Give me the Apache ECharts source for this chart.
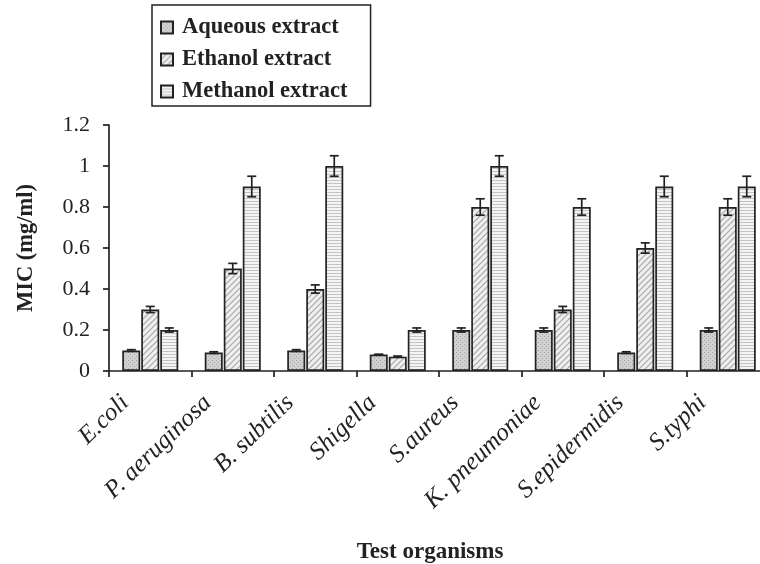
<!DOCTYPE html>
<html><head><meta charset="utf-8">
<script src="https://cdn.jsdelivr.net/npm/echarts@6/dist/echarts.min.js"></script>
<style>html,body{margin:0;padding:0;background:#fff}#c{width:760px;height:564px}</style>
</head><body><div id="c"></div>
<script>
const categories = ['E.coli','P. aeruginosa','B. subtilis','Shigella','S.aureus','K. pneumoniae','S.epidermidis','S.typhi'];
const seriesNames = ['Aqueous extract','Ethanol extract','Methanol extract'];
const aqueous  = [0.1, 0.09, 0.1, 0.08, 0.2, 0.2, 0.09, 0.2];
const ethanol  = [0.3, 0.5, 0.4, 0.07, 0.8, 0.3, 0.6, 0.8];
const methanol = [0.2, 0.9, 1.0, 0.2, 1.0, 0.8, 0.9, 0.9];
const aqueousErr  = [0.004, 0.004, 0.004, 0.002, 0.01, 0.01, 0.004, 0.01];
const ethanolErr  = [0.015, 0.025, 0.02, 0.003, 0.04, 0.015, 0.025, 0.04];
const methanolErr = [0.01, 0.05, 0.05, 0.01, 0.05, 0.04, 0.05, 0.05];
const yTicks = [0, 0.2, 0.4, 0.6, 0.8, 1, 1.2];

function makeCanvas(w, h, draw) {
  const c = document.createElement('canvas'); c.width = w; c.height = h;
  draw(c.getContext('2d')); return c;
}
const patAq = makeCanvas(4, 4, g => {
  g.fillStyle = '#d0d0d0'; g.fillRect(0,0,4,4);
  g.fillStyle = '#a9a9a9'; g.fillRect(0,0,1,1); g.fillRect(2,2,1,1);
});
const patEth = makeCanvas(6, 6, g => {
  g.fillStyle = '#efefef'; g.fillRect(0,0,6,6);
  g.strokeStyle = '#a8a8a8'; g.lineWidth = 1.2;
  g.beginPath();
  g.moveTo(-1,7); g.lineTo(7,-1);
  g.moveTo(-4,4); g.lineTo(4,-4);
  g.moveTo(2,10); g.lineTo(10,2);
  g.stroke();
});
const patMet = makeCanvas(2, 3, g => {
  g.fillStyle = '#f4f4f4'; g.fillRect(0,0,2,3);
  g.fillStyle = '#c4c4c4'; g.fillRect(0,0,2,1);
});
const patterns = [patAq, patEth, patMet];
const values = [aqueous, ethanol, methanol];
const errs = [aqueousErr, ethanolErr, methanolErr];

const BAR_W = 18, BAR_STEP = 19;
const barSeries = values.map((v, i) => ({
  name: seriesNames[i], type: 'bar', data: v, barWidth: BAR_W, barGap: '5.6%',
  itemStyle: { color: { image: patterns[i], repeat: 'repeat' }, borderColor: '#222', borderWidth: 1.7 },
  emphasis: { disabled: true }, z: 2
}));
const errSeries = values.map((v, i) => ({
  type: 'custom', name: seriesNames[i] + ' err', z: 5, silent: true,
  data: v.map((val, k) => [k, val, errs[i][k]]),
  renderItem: (params, api) => {
    const k = api.value(0), val = api.value(1), e = api.value(2);
    const off = (i - 1) * BAR_STEP;
    const hi = api.coord([k, val + e]), lo = api.coord([k, val - e]);
    const x = hi[0] + off, cw = 4.5;
    const st = { stroke: '#222', lineWidth: 1.7 };
    return { type: 'group', children: [
      { type: 'line', shape: { x1: x, y1: hi[1], x2: x, y2: lo[1] }, style: st },
      { type: 'line', shape: { x1: x - cw, y1: hi[1], x2: x + cw, y2: hi[1] }, style: st },
      { type: 'line', shape: { x1: x - cw, y1: lo[1], x2: x + cw, y2: lo[1] }, style: st }
    ]};
  }
}));

const serif = 'Liberation Serif';
const chart = echarts.init(document.getElementById('c'));
chart.setOption({
  animation: false,
  backgroundColor: '#fff',
  grid: { left: 109, top: 125, width: 660, height: 246, containLabel: false, outerBoundsMode: 'none' },
  legend: {
    data: seriesNames, orient: 'vertical', left: 152, top: 5,
    icon: 'rect', itemWidth: 12, itemHeight: 12, itemGap: 9,
    borderColor: '#222', borderWidth: 1.5, padding: [11, 23, 3, 8],
    textStyle: { fontFamily: serif, fontWeight: 'bold', fontSize: 22.5, color: '#222', padding: [0, 0, 0, 4] }
  },
  xAxis: {
    type: 'category', data: categories,
    axisLine: { lineStyle: { color: '#222', width: 1.7 } },
    axisTick: { show: true, length: 6, lineStyle: { color: '#222', width: 1.7 } },
    axisLabel: { rotate: 44, interval: 0, margin: 4, padding: [0, 35, 0, 0],
      fontFamily: serif, fontStyle: 'italic', fontSize: 25, color: '#222' },
    name: 'Test organisms', nameLocation: 'middle', nameGap: 170,
    nameTextStyle: { fontFamily: serif, fontWeight: 'bold', fontSize: 23, color: '#222', padding: [0, 18, 0, 0] }
  },
  yAxis: {
    type: 'value', min: 0, max: 1.2, interval: 0.2,
    axisLine: { show: true, lineStyle: { color: '#222', width: 1.7 } },
    axisTick: { show: true, length: 6, lineStyle: { color: '#222', width: 1.7 } },
    splitLine: { show: false },
    axisLabel: { margin: 19, fontFamily: serif, fontSize: 22, color: '#222',
      formatter: v => String(+v.toFixed(1)) },
    name: 'MIC (mg/ml)', nameLocation: 'middle', nameGap: 71,
    nameTextStyle: { fontFamily: serif, fontWeight: 'bold', fontSize: 22.5, color: '#222' }
  },
  series: [...barSeries, ...errSeries]
});
</script></body></html>
